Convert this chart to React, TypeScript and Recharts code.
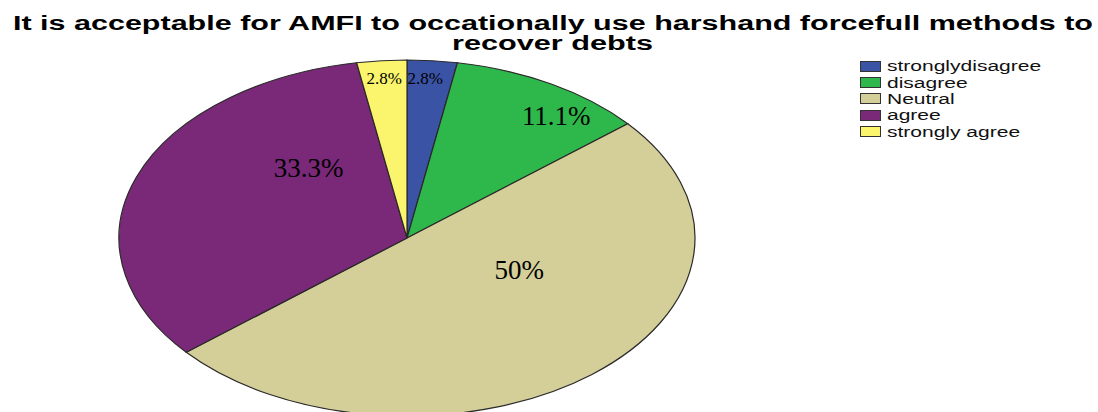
import React from 'react';
import { PieChart, Pie, Sector, Legend } from 'recharts';

const CATEGORIES = ['stronglydisagree', 'disagree', 'Neutral', 'agree', 'strongly agree'];
const PERCENTS = [2.8, 11.1, 50, 33.3, 2.8];
const TITLE_LINES = ['It is acceptable for AMFI to occationally use harshand forcefull methods to', 'recover debts'];

const COLORS = ['#3a53a4', '#2eb84b', '#d4ce98', '#7a2878', '#fbf46d'];
// label placement tweaks (fraction of radius, angular shift in degrees clockwise), font size
const LABEL_STYLE = [
    { r: 0.9, shift: -1, size: 17 },
    { r: 0.86, shift: 7, size: 27 },
    { r: 0.43, shift: -25, size: 27 },
    { r: 0.52, shift: 29, size: 27 },
    { r: 0.9, shift: 0, size: 17 },
];

const W = 1098;
const H = 412;
const SQUASH = 0.618;
const RADIANS = Math.PI / 180;

const data = CATEGORIES.map((name, i) => ({ name, value: PERCENTS[i], fill: COLORS[i] }));

// eslint-disable-next-line @typescript-eslint/no-explicit-any
const EllipseSector = (props: any) => {
    const { cx, cy } = props;
    return (
        <g transform={`translate(${cx},${cy}) scale(1,${SQUASH}) translate(${-cx},${-cy})`}>
            <Sector {...props} stroke="#2a2a2a" strokeWidth={1.2} style={{ vectorEffect: 'non-scaling-stroke' }} />
        </g>
    );
};

// eslint-disable-next-line @typescript-eslint/no-explicit-any
const renderLabel = (props: any) => {
    const { cx, cy, midAngle, outerRadius, index } = props;
    const st = LABEL_STYLE[index];
    const ang = (midAngle - st.shift) * RADIANS;
    const x = cx + outerRadius * st.r * Math.cos(ang);
    const y = cy - outerRadius * st.r * Math.sin(ang) * SQUASH;
    return (
        <text
            key={`lbl-${index}`}
            x={x}
            y={y}
            textAnchor="middle"
            dominantBaseline="central"
            fill="#000"
            style={{ fontFamily: '"Liberation Serif", "Times New Roman", serif', fontSize: st.size }}
        >
            {`${PERCENTS[index]}%`}
        </text>
    );
};

// eslint-disable-next-line @typescript-eslint/no-explicit-any
const renderLegend = (props: any) => {
    const { payload } = props;
    return (
        <div style={{ fontFamily: '"Liberation Sans", Arial, sans-serif', fontSize: 14, color: '#111' }}>
            {payload.map((entry: any, i: number) => (
                <div key={`leg-${i}`} style={{ display: 'flex', alignItems: 'center', height: 16.4 }}>
                    <span
                        style={{
                            display: 'inline-block',
                            width: 19,
                            height: 9,
                            background: COLORS[i],
                            border: '1px solid #333',
                            marginRight: 6,
                            flexShrink: 0,
                        }}
                    />
                    <span style={{ display: 'inline-block', transform: 'scaleX(1.5)', transformOrigin: 'left center', whiteSpace: 'nowrap' }}>
                        {CATEGORIES[i]}
                    </span>
                </div>
            ))}
        </div>
    );
};

export default function App() {
    return (
        <div style={{ position: 'absolute', left: 0, top: 0, width: W, height: H, background: '#fff', overflow: 'hidden' }}>
            <svg width={W} height={60} style={{ position: 'absolute', left: 0, top: 0 }}>
                <text
                    x={553}
                    y={30}
                    textAnchor="middle"
                    textLength={1080}
                    lengthAdjust="spacingAndGlyphs"
                    style={{ fontFamily: '"Liberation Sans", Arial, sans-serif', fontWeight: 'bold', fontSize: 20 }}
                >
                    {TITLE_LINES[0]}
                </text>
                <text
                    x={552.5}
                    y={50}
                    textAnchor="middle"
                    textLength={201}
                    lengthAdjust="spacingAndGlyphs"
                    style={{ fontFamily: '"Liberation Sans", Arial, sans-serif', fontWeight: 'bold', fontSize: 20 }}
                >
                    {TITLE_LINES[1]}
                </text>
            </svg>
            <div style={{ position: 'absolute', left: 0, top: 0 }}>
                <PieChart width={W} height={H} margin={{ top: 0, right: 0, bottom: 0, left: 0 }}>
                    <Pie
                        data={data}
                        dataKey="value"
                        nameKey="name"
                        cx={407}
                        cy={238}
                        outerRadius={288}
                        startAngle={90}
                        endAngle={-270}
                        shape={EllipseSector}
                        label={renderLabel}
                        labelLine={false}
                        isAnimationActive={false}
                    />
                    <Legend
                        layout="vertical"
                        verticalAlign="top"
                        align="right"
                        content={renderLegend}
                        wrapperStyle={{ top: 58, left: 860, width: 230 }}
                    />
                </PieChart>
            </div>
        </div>
    );
}
